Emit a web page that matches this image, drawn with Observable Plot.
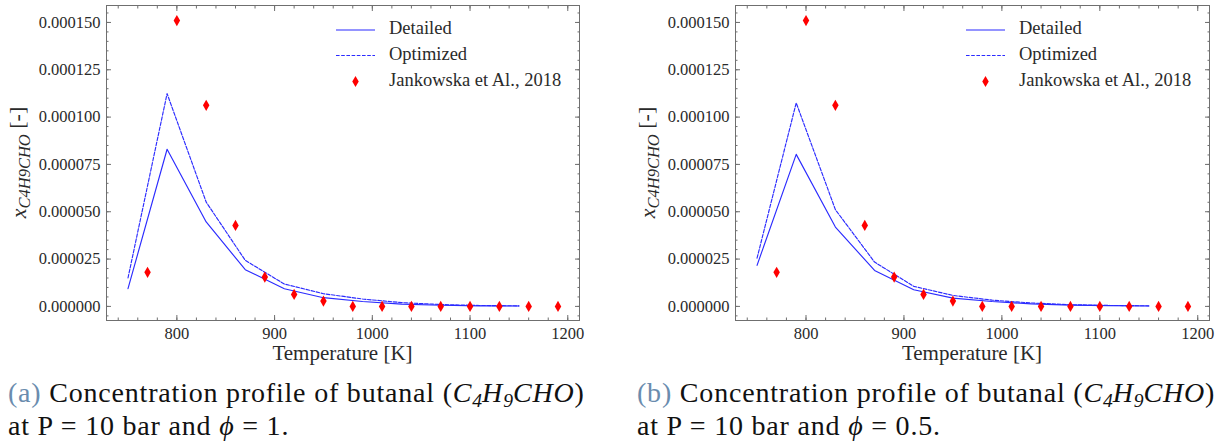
<!DOCTYPE html>
<html><head><meta charset="utf-8">
<script src="https://cdn.jsdelivr.net/npm/d3@7"></script>
<script src="https://cdn.jsdelivr.net/npm/@observablehq/plot@0.6"></script>
<style>
html,body{margin:0;padding:0;background:#fff;}
#root{position:relative;width:1220px;height:446px;overflow:hidden;font-family:"Liberation Serif",serif;color:#111;}
#root svg, #root svg text, #root svg tspan{font-family:"Liberation Serif",serif !important;}
.panel{position:absolute;top:0;width:610px;height:370px;}
.cap{position:absolute;top:375.5px;font-size:28px;letter-spacing:0.8px;line-height:33.3px;white-space:nowrap;color:#111;}
.cap .lab{color:#6a8cae;}
.cap sub{font-size:0.7em;vertical-align:-0.25em;line-height:0;letter-spacing:0;}
</style></head><body>
<div id="root">
  <div class="panel" id="pa" style="left:0"></div>
  <div class="panel" id="pb" style="left:610px"></div>
  <div class="cap" style="left:8px"><span class="lab">(a)</span> Concentration profile of butanal (<i>C<sub>4</sub>H<sub>9</sub>CHO</i>)<br>at P = 10 bar and <i>ϕ</i> = 1.</div>
  <div class="cap" style="left:637px"><span class="lab">(b)</span> Concentration profile of butanal (<i>C<sub>4</sub>H<sub>9</sub>CHO</i>)<br>at P = 10 bar and <i>ϕ</i> = 0.5.</div>
</div>
<script>
// ---- data ----
const modelT = [750, 790, 830, 870, 910, 950, 990, 1030, 1070, 1110, 1150];
const detailedA  = [9.4e-6, 83.0e-6, 44.6e-6, 19.4e-6, 9.3e-6, 4.6e-6, 2.6e-6, 1.2e-6, 0.6e-6, 0.3e-6, 0.2e-6];
const optimizedA = [15.0e-6, 112.4e-6, 55.1e-6, 24.3e-6, 11.8e-6, 6.7e-6, 3.9e-6, 2.0e-6, 1.0e-6, 0.5e-6, 0.3e-6];
const detailedB  = [21.7e-6, 80.3e-6, 41.9e-6, 19.0e-6, 8.8e-6, 4.4e-6, 2.6e-6, 1.3e-6, 0.7e-6, 0.4e-6, 0.2e-6];
const optimizedB = [25.5e-6, 107.5e-6, 51.1e-6, 23.4e-6, 10.6e-6, 5.8e-6, 3.3e-6, 1.8e-6, 0.9e-6, 0.5e-6, 0.3e-6];
const expT = [770, 800, 830, 860, 890, 920, 950, 980, 1010, 1040, 1070, 1100, 1130, 1160, 1190];
const expA = [18.0e-6, 151.0e-6, 106.2e-6, 42.8e-6, 15.5e-6, 6.3e-6, 2.8e-6, 0, 0, 0, 0, 0, 0, 0, 0];
const expB = [18.0e-6, 151.0e-6, 106.2e-6, 42.8e-6, 15.5e-6, 6.3e-6, 2.8e-6, 0, 0, 0, 0, 0, 0, 0, 0];
const xMajor = [800, 900, 1000, 1100, 1200];
const xMinor = d3.range(37, 61).map(i => i * 20);
const yMajor = [0, 25e-6, 50e-6, 75e-6, 100e-6, 125e-6, 150e-6];
const yMinor = d3.range(-1, 32).map(i => i * 5e-6);
const seriesNames = ["Detailed", "Optimized", "Jankowska et Al., 2018"];

const xDomain = [728, 1212];
const yDomain = [-7.45e-6, 158.95e-6];
const FONT = "Liberation Serif";
const TICK = "#6f6f6f";
const BLUE = "#2b2bff";

function rows(xs, ys) { return xs.map((x, i) => ({x, y: ys[i]})); }

function panel(el, det, opt, exp, ml, mr) {
  const W = 610, H = 370, mt = 5, mb = 50;
  const chart = Plot.plot({
    width: W, height: H, marginLeft: ml, marginRight: mr, marginTop: mt, marginBottom: mb,
    style: {fontFamily: FONT, fontSize: "16.5px", color: "#2a2a2a", background: "white", overflow: "visible"},
    x: {domain: xDomain},
    y: {domain: yDomain},
    marks: [
      Plot.line(rows(modelT, det), {x: "x", y: "y", stroke: BLUE, strokeWidth: 1.15}),
      Plot.line(rows(modelT, opt), {x: "x", y: "y", stroke: BLUE, strokeWidth: 1.15, strokeDasharray: "3.6,1.6"}),
      Plot.dot(rows(expT, exp), {x: "x", y: "y", symbol: "diamond", r: 3.4, fill: "#ff0000", stroke: "none"}),
      // minor ticks
      Plot.axisX(xMinor, {anchor: "bottom", tickSize: -2.5, tickFormat: () => "", stroke: TICK, label: null}),
      Plot.axisX(xMinor, {anchor: "top", tickSize: -2.5, tickFormat: () => "", stroke: TICK, label: null}),
      Plot.axisY(yMinor, {anchor: "left", tickSize: -2.5, tickFormat: () => "", stroke: TICK, label: null}),
      Plot.axisY(yMinor, {anchor: "right", tickSize: -2.5, tickFormat: () => "", stroke: TICK, label: null}),
      // major ticks
      Plot.axisX(xMajor, {anchor: "bottom", tickSize: -5, tickPadding: 11.5, tickFormat: d3.format("d"), stroke: TICK, label: null}),
      Plot.axisX(xMajor, {anchor: "top", tickSize: -5, tickFormat: () => "", stroke: TICK, label: null}),
      Plot.axisY(yMajor, {anchor: "left", tickSize: -5, tickPadding: 11, tickFormat: d3.format(".6f"), stroke: TICK, label: null}),
      Plot.axisY(yMajor, {anchor: "right", tickSize: -5, tickFormat: () => "", stroke: TICK, label: null}),
      Plot.frame({stroke: TICK, strokeWidth: 1})
    ]
  });
  const svg = d3.select(chart);
  const right = W - mr;
  // x label
  svg.append("text").attr("x", (ml + right) / 2).attr("y", 360)
    .attr("text-anchor", "middle").attr("font-size", 21).attr("fill", "#2a2a2a")
    .text("Temperature [K]");
  // y label
  const yl = svg.append("text").attr("transform", `translate(${ml - 85},${(mt + H - mb) / 2}) rotate(-90)`)
    .attr("text-anchor", "middle").attr("dominant-baseline", "middle")
    .attr("font-size", 22).attr("fill", "#2a2a2a");
  yl.append("tspan").attr("font-style", "italic").text("x");
  yl.append("tspan").attr("font-style", "italic").attr("font-size", 16.5).attr("dy", "0.28em").text("C4H9CHO");
  yl.append("tspan").attr("dy", "-0.28em").text(" [-]");
  // legend
  const lg = svg.append("g").attr("font-size", 18.5).attr("fill", "#2a2a2a").attr("text-anchor", "start");
  const lx0 = right - 243, lx1 = right - 204, tx = right - 190;
  const ys = [30, 55.5, 81.5];
  lg.append("line").attr("x1", lx0).attr("x2", lx1).attr("y1", ys[0]).attr("y2", ys[0]).attr("stroke", BLUE).attr("stroke-width", 1.15);
  lg.append("line").attr("x1", lx0).attr("x2", lx1).attr("y1", ys[1]).attr("y2", ys[1]).attr("stroke", BLUE).attr("stroke-width", 1.15).attr("stroke-dasharray", "3.6,1.6");
  lg.append("path").attr("d", d3.symbol(d3.symbolDiamond, Math.PI * 3.4 * 3.4)()).attr("transform", `translate(${(lx0 + lx1) / 2},${ys[2]})`).attr("fill", "#ff0000");
  seriesNames.forEach((n, i) => {
    lg.append("text").attr("x", tx).attr("y", ys[i]).attr("text-anchor", "start").attr("dominant-baseline", "middle").text(n);
  });
  document.getElementById(el).appendChild(chart);
}

panel("pa", detailedA, optimizedA, expA, 106, 31);
panel("pb", detailedB, optimizedB, expB, 125, 11);
</script>
</body></html>
